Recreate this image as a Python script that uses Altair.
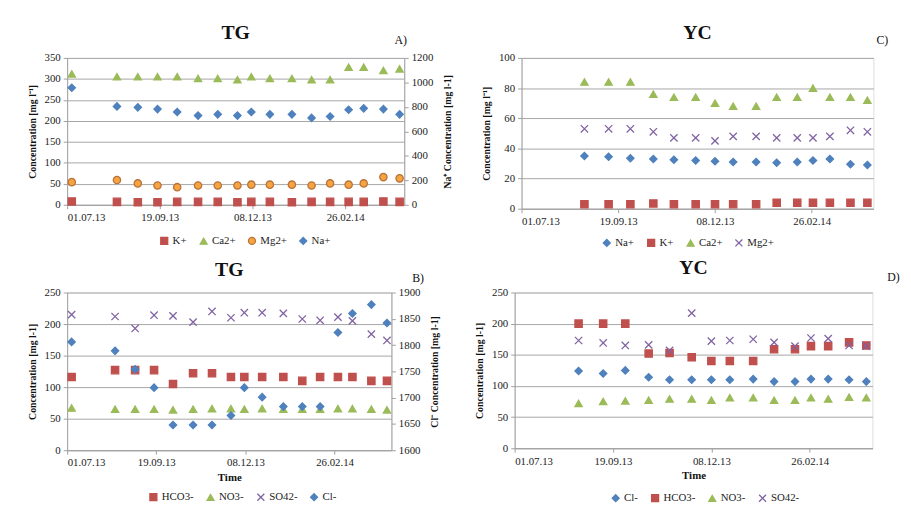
import altair as alt
import pandas as pd

FONT = "Liberation Serif"

# sampling dates
tg_dates = ["2013-07-05", "2013-08-13", "2013-08-31", "2013-09-17", "2013-10-04",
            "2013-10-22", "2013-11-08", "2013-11-25", "2013-12-07", "2013-12-23",
            "2014-01-11", "2014-01-28", "2014-02-13", "2014-03-01", "2014-03-14",
            "2014-03-31", "2014-04-14"]
yc_dates = ["2013-08-22", "2013-09-11", "2013-09-29", "2013-10-18", "2013-11-04",
            "2013-11-22", "2013-12-08", "2013-12-23", "2014-01-11", "2014-01-28",
            "2014-02-14", "2014-02-27", "2014-03-13", "2014-03-30", "2014-04-13"]

# TG cations (A)
tg_k = [8, 7, 6, 6, 7, 7, 7, 6, 7, 7, 6, 7, 7, 7, 7, 8, 7]
tg_ca = [312, 305, 305, 305, 305, 301, 301, 298, 305, 301, 301, 298, 298, 328, 328, 320, 324]
tg_mg = [54, 59, 51, 46, 42, 46, 46, 46, 48, 48, 48, 46, 51, 48, 51, 66, 63]
tg_na = [956, 804, 796, 782, 758, 729, 739, 729, 758, 739, 739, 710, 721, 777, 788, 782, 739]

# TG anions (B)
tg_hco3 = [116, 127, 127, 127, 105, 122, 122, 116, 116, 116, 116, 110, 116, 116, 116, 110, 110]
tg_no3 = [67, 65, 65, 65, 64, 65, 66, 66, 65, 66, 65, 65, 65, 66, 66, 65, 64]
tg_so4 = [215, 212, 193, 214, 213, 203, 220, 210, 218, 218, 217, 208, 206, 211, 205, 184, 174]
tg_cl = [1806, 1789, 1754, 1719, 1648, 1648, 1648, 1666, 1719, 1701, 1683, 1683, 1683,
         1824, 1860, 1877, 1842]

# YC cations (C)
yc_na = [35, 34.5, 33.5, 33, 32.5, 32, 31.5, 31, 31, 30.5, 31, 32, 33, 29.5, 29]
yc_k = [3, 3, 3, 3.5, 3, 3, 3, 3, 3, 4, 4, 4, 4, 4, 4]
yc_ca = [84, 84, 84, 76, 74, 74, 70, 68, 68, 74, 74, 80, 74, 74, 72]
yc_mg = [53, 53, 53, 51, 47, 47, 45, 48, 48, 47, 47, 47, 48, 52, 51]

# YC anions (D)
yc_cl = [124, 120, 125, 114, 110, 110, 110, 110, 111, 107, 107, 111, 111, 110, 107]
yc_hco3 = [200, 200, 200, 152, 153, 146, 140, 140, 140, 159, 159, 164, 164, 170, 165]
yc_no3 = [72, 75, 76, 77, 79, 79, 77, 81, 81, 77, 77, 81, 79, 82, 81]
yc_so4 = [173, 169, 165, 166, 157, 217, 172, 173, 175, 170, 164, 177, 176, 165, 164]

BLUE = "#4F81BD"
RED = "#C0504D"
GREEN = "#9BBB59"
PURPLE = "#8064A2"
ORANGE = "#F6A341"
X_PATH = "M-1,-1L1,1M-1,1L1,-1"

SQ = (RED, RED, "square")
TRI = (GREEN, GREEN, "triangle-up")
DIA = (BLUE, BLUE, "diamond")
CIRC = (ORANGE, "#B8733A", "circle")
CROSS = (PURPLE, PURPLE, X_PATH)

START = alt.DateTime(year=2013, month=7, date=1)
END = alt.DateTime(year=2014, month=4, date=18)
TICKS = [alt.DateTime(year=2013, month=7, date=1), alt.DateTime(year=2013, month=9, date=19),
         alt.DateTime(year=2013, month=12, date=8), alt.DateTime(year=2014, month=2, date=26)]


def long_df(dates, series):
    rows = []
    for name, vals in series.items():
        for d, v in zip(dates, vals):
            rows.append({"date": d + "T00:00:00", "ion": name, "value": v})
    return pd.DataFrame(rows)


def yaxis(values, title, **kw):
    kw.setdefault("titlePadding", 7)
    return alt.Axis(values=values, title=title, format="d",
                    domainColor="#A0A0A0", tickColor="#A0A0A0", tickSize=4, labelPadding=3,
                    labelFont=FONT, labelFontSize=11, labelColor="#222",
                    titleFont=FONT, titleFontSize=10, titleColor="#111", **kw)


def panel(title, title_off, letter, letter_xy, dates, left, right, order, styles,
          ldom, lstep, ltitle, rdom, rstep, rtitle, xtitle, w, h, lx, ly):
    series = dict(left)
    series.update(right)
    df = long_df(dates, series)
    legend = alt.Legend(orient="none", legendX=lx, legendY=ly, direction="horizontal",
                        title=None, labelFont=FONT, labelFontSize=11, labelColor="#222",
                        symbolSize=50, symbolStrokeWidth=1.3, columnPadding=10,
                        labelOffset=3)
    fill = alt.Fill("ion:N", scale=alt.Scale(domain=order, range=[styles[n][0] for n in order]),
                    legend=legend)
    stroke = alt.Stroke("ion:N", scale=alt.Scale(domain=order, range=[styles[n][1] for n in order]),
                        legend=legend)
    shape = alt.Shape("ion:N", scale=alt.Scale(domain=order, range=[styles[n][2] for n in order]),
                      legend=legend)
    xaxis = alt.Axis(values=TICKS, format="%d.%m.%y", title=xtitle, grid=False,
                     labelFont=FONT, labelFontSize=11, labelColor="#222",
                     titleFont=FONT, titleFontSize=11, titleColor="#111", titlePadding=4,
                     domainColor="#A0A0A0", tickColor="#A0A0A0", tickSize=4, labelPadding=3)
    x = alt.X("date:T", scale=alt.Scale(domain=[START, END]), axis=xaxis)

    base = alt.Chart(df).mark_point(filled=True, size=55, strokeWidth=1.3, opacity=1)

    left_layer = base.transform_filter(
        alt.FieldOneOfPredicate(field="ion", oneOf=list(left))
    ).encode(
        x=x,
        y=alt.Y("value:Q", scale=alt.Scale(domain=ldom),
                axis=yaxis(list(range(ldom[0], ldom[1] + 1, lstep)), ltitle,
                           grid=True, gridColor="#A6A6A6")),
        fill=fill, stroke=stroke, shape=shape,
    )
    layers = [left_layer]
    if right:
        right_layer = base.transform_filter(
            alt.FieldOneOfPredicate(field="ion", oneOf=list(right))
        ).encode(
            x=x,
            y=alt.Y("value:Q", scale=alt.Scale(domain=rdom),
                    axis=yaxis(list(range(rdom[0], rdom[1] + 1, rstep)), rtitle,
                               orient="right", titleAngle=270, titleBaseline="top",
                               titlePadding=10, grid=False)),
            fill=fill, stroke=stroke, shape=shape,
        )
        layers.append(right_layer)
    tag = alt.Chart(alt.Data(values=[{}])).mark_text(
        text=letter, font=FONT, fontSize=12, align="left", color="#111"
    ).encode(x=alt.value(letter_xy[0]), y=alt.value(letter_xy[1]))
    layers.append(tag)

    chart = alt.layer(*layers).properties(
        width=w, height=h,
        title=alt.TitleParams(title, font=FONT, fontSize=20, fontWeight="bold",
                              color="#111", anchor="middle", offset=title_off),
    )
    if right:
        chart = chart.resolve_scale(y="independent")
    return chart


panel_a = panel("TG", -9, "A)", (332, -18), tg_dates,
                {"K+": tg_k, "Ca2+": tg_ca, "Mg2+": tg_mg}, {"Na+": tg_na},
                ["K+", "Ca2+", "Mg2+", "Na+"],
                {"K+": SQ, "Ca2+": TRI, "Mg2+": CIRC, "Na+": DIA},
                [0, 350], 50, "Concentration [mg l\u207b\u00b9]",
                [0, 1200], 200, "Na\u207a Concentration [mg l-1]", None,
                342, 149, 93, 180)

panel_c = panel("YC", -9, "C)", (360, -18), yc_dates,
                {"Na+": yc_na, "K+": yc_k, "Ca2+": yc_ca, "Mg2+": yc_mg}, {},
                ["Na+", "K+", "Ca2+", "Mg2+"],
                {"Na+": DIA, "K+": SQ, "Ca2+": TRI, "Mg2+": CROSS},
                [0, 100], 20, "Concentration [mg l\u207b\u00b9]",
                None, None, None, None,
                357, 153, 81, 182)

panel_b = panel("TG", -8, "B)", (350, -15), tg_dates,
                {"HCO3-": tg_hco3, "NO3-": tg_no3, "SO42-": tg_so4}, {"Cl-": tg_cl},
                ["HCO3-", "NO3-", "SO42-", "Cl-"],
                {"HCO3-": SQ, "NO3-": TRI, "SO42-": CROSS, "Cl-": DIA},
                [0, 250], 50, "Concentration [mg l-1]",
                [1600, 1900], 50, "Cl\u207b Concentration [mg l-1]", "Time",
                329, 160, 82, 202)

panel_d = panel("YC", -7, "D)", (378, -16), yc_dates,
                {"Cl-": yc_cl, "HCO3-": yc_hco3, "NO3-": yc_no3, "SO42-": yc_so4}, {},
                ["Cl-", "HCO3-", "NO3-", "SO42-"],
                {"Cl-": DIA, "HCO3-": SQ, "NO3-": TRI, "SO42-": CROSS},
                [0, 250], 50, "Concentration [mg l-1]",
                None, None, None, "Time",
                363, 158, 97, 203)

indep = dict(fill="independent", stroke="independent", shape="independent")

top = alt.hconcat(panel_a, panel_c, spacing=28).resolve_scale(**indep).resolve_legend(**indep)
bottom = alt.hconcat(panel_b, panel_d, spacing=34).resolve_scale(**indep).resolve_legend(**indep)

chart = alt.vconcat(top, bottom, spacing=7).resolve_scale(**indep).resolve_legend(**indep).properties(
    padding={"left": 19, "top": 11, "right": 2, "bottom": 2}
).configure_view(strokeWidth=0).configure(background="white")

chart.save("out.html", embed_options={"renderer": "svg", "actions": False})
